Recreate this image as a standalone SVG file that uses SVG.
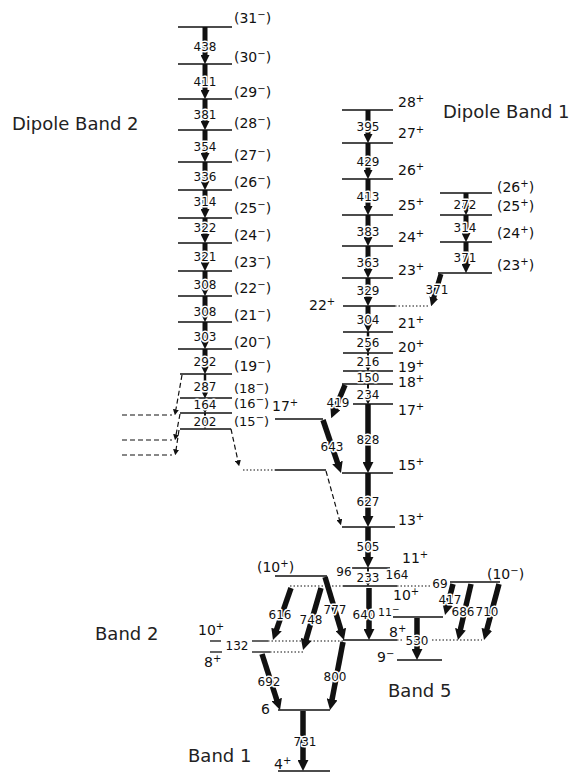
<svg xmlns="http://www.w3.org/2000/svg" width="584" height="774" viewBox="0 0 584 774">
<style>
.lv{stroke:#111;stroke-width:1.3;fill:none}
.tr{stroke:#111;stroke-width:5;fill:none;marker-end:url(#ah)}
.tb{stroke:#111;stroke-width:5.5;fill:none;marker-end:url(#ahb)}
.ts{stroke:#111;stroke-width:2.5;fill:none;marker-end:url(#ahs)}
.ds{stroke:#111;stroke-width:1.2;stroke-dasharray:5 3;fill:none}
.dsa{stroke:#111;stroke-width:1.2;stroke-dasharray:5 3;fill:none;marker-end:url(#ahs)}
.dt{stroke:#111;stroke-width:1.2;stroke-dasharray:1.5 2;fill:none}
text{font-family:"DejaVu Sans",sans-serif;fill:#111}
.n{font-size:12px;text-anchor:middle;stroke:#fff;stroke-width:3;paint-order:stroke;stroke-linejoin:round}
.j{font-size:14px}
.jc{font-size:13px}
.s{font-size:10px}
.b{font-size:18px;fill:#222}
</style>
<defs>
<marker id="ah" viewBox="0 0 10 10" markerWidth="9" markerHeight="9" refX="1" refY="5" orient="auto" markerUnits="userSpaceOnUse"><path d="M0,0 L10,5 L0,10 z" fill="#111"/></marker>
<marker id="ahb" viewBox="0 0 10 10" markerWidth="11" markerHeight="11" refX="1" refY="5" orient="auto" markerUnits="userSpaceOnUse"><path d="M0,0 L10,5 L0,10 z" fill="#111"/></marker>
<marker id="ahs" viewBox="0 0 10 10" markerWidth="6" markerHeight="6" refX="1" refY="5" orient="auto" markerUnits="userSpaceOnUse"><path d="M0,0 L10,5 L0,10 z" fill="#111"/></marker>
</defs>

<!-- band titles -->
<text class="b" x="12" y="130">Dipole Band 2</text>
<text class="b" x="443" y="118">Dipole Band 1</text>
<text class="b" x="95" y="640">Band 2</text>
<text class="b" x="388" y="697">Band 5</text>
<text class="b" x="188" y="762">Band 1</text>

<!-- Dipole band 2 levels -->
<g id="d2-31"><line class="lv" x1="178" y1="27" x2="232" y2="27"/><text class="j" x="234" y="23">(31<tspan class="s" dy="-5">−</tspan><tspan dy="5">)</tspan></text></g>
<g id="d2-30"><line class="lv" x1="178" y1="64" x2="232" y2="64"/><text class="j" x="234" y="62">(30<tspan class="s" dy="-5">−</tspan><tspan dy="5">)</tspan></text></g>
<g id="d2-29"><line class="lv" x1="178" y1="99" x2="232" y2="99"/><text class="j" x="234" y="97">(29<tspan class="s" dy="-5">−</tspan><tspan dy="5">)</tspan></text></g>
<g id="d2-28"><line class="lv" x1="178" y1="130" x2="232" y2="130"/><text class="j" x="234" y="128">(28<tspan class="s" dy="-5">−</tspan><tspan dy="5">)</tspan></text></g>
<g id="d2-27"><line class="lv" x1="178" y1="162" x2="232" y2="162"/><text class="j" x="234" y="160">(27<tspan class="s" dy="-5">−</tspan><tspan dy="5">)</tspan></text></g>
<g id="d2-26"><line class="lv" x1="178" y1="190" x2="232" y2="190"/><text class="j" x="234" y="187">(26<tspan class="s" dy="-5">−</tspan><tspan dy="5">)</tspan></text></g>
<g id="d2-25"><line class="lv" x1="178" y1="218" x2="232" y2="218"/><text class="j" x="234" y="213">(25<tspan class="s" dy="-5">−</tspan><tspan dy="5">)</tspan></text></g>
<g id="d2-24"><line class="lv" x1="178" y1="243" x2="232" y2="243"/><text class="j" x="234" y="240">(24<tspan class="s" dy="-5">−</tspan><tspan dy="5">)</tspan></text></g>
<g id="d2-23"><line class="lv" x1="178" y1="271" x2="232" y2="271"/><text class="j" x="234" y="267">(23<tspan class="s" dy="-5">−</tspan><tspan dy="5">)</tspan></text></g>
<g id="d2-22"><line class="lv" x1="178" y1="296" x2="232" y2="296"/><text class="j" x="234" y="293">(22<tspan class="s" dy="-5">−</tspan><tspan dy="5">)</tspan></text></g>
<g id="d2-21"><line class="lv" x1="178" y1="322" x2="232" y2="322"/><text class="j" x="234" y="320">(21<tspan class="s" dy="-5">−</tspan><tspan dy="5">)</tspan></text></g>
<g id="d2-20"><line class="lv" x1="178" y1="349" x2="232" y2="349"/><text class="j" x="234" y="347">(20<tspan class="s" dy="-5">−</tspan><tspan dy="5">)</tspan></text></g>
<g id="d2-19"><line class="lv" x1="180" y1="374" x2="232" y2="374"/><text class="j" x="234" y="371">(19<tspan class="s" dy="-5">−</tspan><tspan dy="5">)</tspan></text></g>
<g id="d2-18"><line class="lv" x1="180" y1="398" x2="232" y2="398"/><text class="jc" x="234" y="393">(18<tspan class="s" dy="-5">−</tspan><tspan dy="5">)</tspan></text></g>
<g id="d2-16"><line class="lv" x1="180" y1="413" x2="232" y2="413"/><text class="jc" x="234" y="408">(16<tspan class="s" dy="-5">−</tspan><tspan dy="5">)</tspan></text></g>
<g id="d2-15"><line class="lv" x1="180" y1="429" x2="231" y2="429"/><text class="jc" x="234" y="426">(15<tspan class="s" dy="-5">−</tspan><tspan dy="5">)</tspan></text></g>

<!-- Dipole band 1 levels -->
<g id="d1-28"><line class="lv" x1="342" y1="110" x2="393" y2="110"/><text class="j" x="398" y="107">28<tspan class="s" dy="-5">+</tspan></text></g>
<g id="d1-27"><line class="lv" x1="342" y1="143" x2="393" y2="143"/><text class="j" x="398" y="138">27<tspan class="s" dy="-5">+</tspan></text></g>
<g id="d1-26"><line class="lv" x1="342" y1="179" x2="393" y2="179"/><text class="j" x="398" y="175">26<tspan class="s" dy="-5">+</tspan></text></g>
<g id="d1-25"><line class="lv" x1="342" y1="215" x2="393" y2="215"/><text class="j" x="398" y="210">25<tspan class="s" dy="-5">+</tspan></text></g>
<g id="d1-24"><line class="lv" x1="342" y1="246" x2="393" y2="246"/><text class="j" x="398" y="242">24<tspan class="s" dy="-5">+</tspan></text></g>
<g id="d1-23"><line class="lv" x1="342" y1="278" x2="393" y2="278"/><text class="j" x="398" y="275">23<tspan class="s" dy="-5">+</tspan></text></g>
<g id="d1-22"><line class="lv" x1="343" y1="306" x2="395" y2="306"/><text class="j" x="309" y="310">22<tspan class="s" dy="-5">+</tspan></text></g>
<g id="d1-21"><line class="lv" x1="343" y1="332" x2="393" y2="332"/><text class="j" x="398" y="328">21<tspan class="s" dy="-5">+</tspan></text></g>
<g id="d1-20"><line class="lv" x1="343" y1="353" x2="393" y2="353"/><text class="j" x="398" y="352">20<tspan class="s" dy="-5">+</tspan></text></g>
<g id="d1-19"><line class="lv" x1="343" y1="371" x2="393" y2="371"/><text class="j" x="398" y="372">19<tspan class="s" dy="-5">+</tspan></text></g>
<g id="d1-18"><line class="lv" x1="342" y1="384" x2="393" y2="384"/><text class="j" x="398" y="387">18<tspan class="s" dy="-5">+</tspan></text></g>
<g id="d1-17"><line class="lv" x1="353" y1="404" x2="393" y2="404"/><text class="j" x="398" y="415">17<tspan class="s" dy="-5">+</tspan></text></g>
<g id="b-17l"><line class="lv" x1="275" y1="419" x2="323" y2="419"/><text class="j" x="272" y="411">17<tspan class="s" dy="-5">+</tspan></text></g>
<g id="b-15"><line class="lv" x1="342" y1="473" x2="393" y2="473"/><text class="j" x="398" y="470">15<tspan class="s" dy="-5">+</tspan></text></g>
<g id="b-15l"><line class="lv" x1="275" y1="470" x2="326" y2="470"/></g>
<g id="b-13"><line class="lv" x1="342" y1="527" x2="395" y2="527"/><text class="j" x="398" y="525">13<tspan class="s" dy="-5">+</tspan></text></g>
<g id="b-11"><line class="lv" x1="352" y1="568" x2="390" y2="568"/><text class="j" x="402" y="563">11<tspan class="s" dy="-5">+</tspan></text></g>

<!-- right column of dipole band 1 -->
<g id="r-26"><line class="lv" x1="440" y1="193" x2="492" y2="193"/><text class="j" x="497" y="192">(26<tspan class="s" dy="-5">+</tspan><tspan dy="5">)</tspan></text></g>
<g id="r-25"><line class="lv" x1="440" y1="215" x2="492" y2="215"/><text class="j" x="497" y="211">(25<tspan class="s" dy="-5">+</tspan><tspan dy="5">)</tspan></text></g>
<g id="r-24"><line class="lv" x1="440" y1="242" x2="492" y2="242"/><text class="j" x="497" y="238">(24<tspan class="s" dy="-5">+</tspan><tspan dy="5">)</tspan></text></g>
<g id="r-23"><line class="lv" x1="438" y1="273" x2="492" y2="273"/><text class="j" x="497" y="270">(23<tspan class="s" dy="-5">+</tspan><tspan dy="5">)</tspan></text></g>

<!-- low-lying levels -->
<g id="l-10p-paren"><line class="lv" x1="275" y1="576" x2="327" y2="576"/><text class="j" x="257" y="572">(10<tspan class="s" dy="-5">+</tspan><tspan dy="5">)</tspan></text></g>
<g id="l-10p"><line class="dt" x1="290" y1="586" x2="343" y2="586"/><line class="lv" x1="343" y1="586" x2="397" y2="586"/><line class="dt" x1="397" y1="586" x2="432" y2="586"/><text class="j" x="393" y="600">10<tspan class="s" dy="-5">+</tspan></text></g>
<g id="l-10m"><line class="lv" x1="450" y1="582" x2="500" y2="582"/><text class="j" x="487" y="579">(10<tspan class="s" dy="-5">−</tspan><tspan dy="5">)</tspan></text></g>
<g id="l-11m"><line class="lv" x1="393" y1="617" x2="443" y2="617"/><text x="378" y="616" style="font-size:11px">11<tspan dy="-4" style="font-size:9px">−</tspan></text></g>
<g id="l-8p"><line class="lv" x1="343" y1="640" x2="397" y2="640"/><line class="dt" x1="397" y1="640" x2="404" y2="640"/><line class="dt" x1="432" y1="640" x2="482" y2="640"/><text class="j" x="389" y="637">8<tspan class="s" dy="-5">+</tspan></text></g>
<g id="l-9m"><line class="lv" x1="397" y1="660" x2="442" y2="660"/><text class="j" x="377" y="662">9<tspan class="s" dy="-5">−</tspan></text></g>
<g id="b2-10p"><line class="lv" x1="210" y1="641" x2="221" y2="641"/><line class="lv" x1="252" y1="641" x2="268" y2="641"/><line class="dt" x1="268" y1="641" x2="343" y2="641"/><text class="j" x="198" y="635">10<tspan class="s" dy="-5">+</tspan></text></g>
<g id="b2-8p"><line class="lv" x1="210" y1="652" x2="222" y2="652"/><line class="lv" x1="252" y1="652" x2="270" y2="652"/><line class="dt" x1="270" y1="652" x2="303" y2="652"/><text class="j" x="204" y="667">8<tspan class="s" dy="-5">+</tspan></text></g>
<g id="b1-6"><line class="lv" x1="278" y1="710" x2="330" y2="710"/><text class="j" x="261" y="714">6</text></g>
<g id="b1-4"><line class="lv" x1="278" y1="771" x2="330" y2="771"/><text class="j" x="274" y="769">4<tspan class="s" dy="-5">+</tspan></text></g>

<!-- connectors -->
<g id="connectors">
<line class="tr" x1="205" y1="27" x2="205" y2="56"/>
<line class="tr" x1="205" y1="64" x2="205" y2="91"/>
<line class="tr" x1="205" y1="99" x2="205" y2="122"/>
<line class="tr" x1="205" y1="130" x2="205" y2="154"/>
<line class="tr" x1="205" y1="162" x2="205" y2="182"/>
<line class="tr" x1="205" y1="190" x2="205" y2="210"/>
<line class="tr" x1="205" y1="218" x2="205" y2="235"/>
<line class="tr" x1="205" y1="243" x2="205" y2="263"/>
<line class="tr" x1="205" y1="271" x2="205" y2="288"/>
<line class="tr" x1="205" y1="296" x2="205" y2="314"/>
<line class="tr" x1="205" y1="322" x2="205" y2="341"/>
<line class="tr" x1="205" y1="349" x2="205" y2="366"/>
<line class="ts" x1="205" y1="374" x2="205" y2="393"/>
<line class="ts" x1="205" y1="398" x2="205" y2="408" style="stroke-width:2"/>
<line class="ts" x1="205" y1="413" x2="205" y2="424" style="stroke-width:2"/>
<line class="tr" x1="368" y1="110" x2="368" y2="135"/>
<line class="tr" x1="368" y1="143" x2="368" y2="171"/>
<line class="tr" x1="368" y1="179" x2="368" y2="207"/>
<line class="tr" x1="368" y1="215" x2="368" y2="238"/>
<line class="tr" x1="368" y1="246" x2="368" y2="270"/>
<line class="tr" x1="368" y1="278" x2="368" y2="298"/>
<line class="tr" x1="368" y1="306" x2="368" y2="324"/>
<line class="ts" x1="368" y1="332" x2="368" y2="348"/>
<line class="ts" x1="368" y1="353" x2="368" y2="366" style="stroke-width:2"/>
<line class="ts" x1="368" y1="371" x2="368" y2="379" style="stroke-width:2"/>
<line class="ts" x1="368" y1="384" x2="368" y2="399" style="stroke-width:2"/>
<line class="tb" x1="368" y1="404" x2="368" y2="463"/>
<line class="tb" x1="368" y1="473" x2="368" y2="517"/>
<line class="tb" x1="368" y1="527" x2="368" y2="558"/>
<line class="ts" x1="368" y1="568" x2="368" y2="581" style="stroke-width:2"/>
<line class="tr" x1="466" y1="193" x2="466" y2="207"/>
<line class="tr" x1="466" y1="215" x2="466" y2="234"/>
<line class="tr" x1="466" y1="242" x2="466" y2="265"/>
<line class="tr" x1="441" y1="274" x2="433.5" y2="298.4"/>
<line class="dt" x1="395" y1="306" x2="430" y2="306"/>
<line class="tb" x1="345" y1="385" x2="335" y2="409"/>
<line class="tb" x1="323" y1="420" x2="337.8" y2="463.6"/>
<line class="dsa" x1="182" y1="375" x2="175.8" y2="410"/>
<line class="dsa" x1="180" y1="414" x2="176" y2="435"/>
<line class="dsa" x1="179" y1="430" x2="176" y2="450"/>
<line class="ds" x1="122" y1="415" x2="172" y2="415"/>
<line class="ds" x1="122" y1="440" x2="172" y2="440"/>
<line class="ds" x1="122" y1="455" x2="172" y2="455"/>
<line class="dsa" x1="231" y1="429" x2="238" y2="461"/>
<line class="dt" x1="243" y1="470" x2="275" y2="470"/>
<line class="dsa" x1="326" y1="471" x2="339.5" y2="520"/>
<line class="tb" x1="291" y1="588" x2="276.2" y2="630.6"/>
<line class="tb" x1="321" y1="588" x2="305.8" y2="640.5"/>
<line class="tb" x1="325" y1="577" x2="341.1" y2="630.5"/>
<line class="tb" x1="369" y1="588" x2="369" y2="630"/>
<line class="tb" x1="262" y1="654" x2="277" y2="700.6"/>
<line class="tb" x1="343" y1="642" x2="331.9" y2="700.3"/>
<line class="tb" x1="303" y1="711" x2="303" y2="761"/>
<line class="tb" x1="453" y1="584" x2="447.5" y2="605.4"/>
<line class="tb" x1="471" y1="584" x2="460.2" y2="630.4"/>
<line class="tb" x1="499" y1="584" x2="486.6" y2="630.4"/>
<line class="tb" x1="417" y1="618" x2="417" y2="650"/>
</g>

<g id="energies">
<text class="n" x="205" y="51">438</text>
<text class="n" x="205" y="86">411</text>
<text class="n" x="205" y="119">381</text>
<text class="n" x="205" y="151">354</text>
<text class="n" x="205" y="181">336</text>
<text class="n" x="205" y="206">314</text>
<text class="n" x="205" y="232">322</text>
<text class="n" x="205" y="261">321</text>
<text class="n" x="205" y="289">308</text>
<text class="n" x="205" y="316">308</text>
<text class="n" x="205" y="341">303</text>
<text class="n" x="205" y="366">292</text>
<text class="n" x="205" y="391">287</text>
<text class="n" x="205" y="409">164</text>
<text class="n" x="205" y="426">202</text>
<text class="n" x="368" y="131">395</text>
<text class="n" x="368" y="166">429</text>
<text class="n" x="368" y="201">413</text>
<text class="n" x="368" y="236">383</text>
<text class="n" x="368" y="267">363</text>
<text class="n" x="368" y="295">329</text>
<text class="n" x="368" y="324">304</text>
<text class="n" x="368" y="347">256</text>
<text class="n" x="368" y="366">216</text>
<text class="n" x="368" y="382">150</text>
<text class="n" x="368" y="399">234</text>
<text class="n" x="368" y="444">828</text>
<text class="n" x="368" y="506">627</text>
<text class="n" x="368" y="551">505</text>
<text class="n" x="465" y="209">272</text>
<text class="n" x="465" y="232">314</text>
<text class="n" x="465" y="262">371</text>
<text class="n" x="437" y="294">371</text>
<text class="n" x="338" y="407">419</text>
<text class="n" x="332" y="451">643</text>
<text class="n" x="344" y="576">96</text>
<text class="n" x="368" y="582">233</text>
<text class="n" x="397" y="579">164</text>
<text class="n" x="440" y="588">69</text>
<text class="n" x="280" y="619">616</text>
<text class="n" x="311" y="624">748</text>
<text class="n" x="335" y="614">777</text>
<text class="n" x="364" y="619">640</text>
<text class="n" x="450" y="604">417</text>
<text class="n" x="463" y="616">686</text>
<text class="n" x="487" y="616">710</text>
<text class="n" x="417" y="645">530</text>
<text class="n" x="237" y="650">132</text>
<text class="n" x="269" y="686">692</text>
<text class="n" x="335" y="681">800</text>
<text class="n" x="305" y="746">731</text>
</g>
</svg>
